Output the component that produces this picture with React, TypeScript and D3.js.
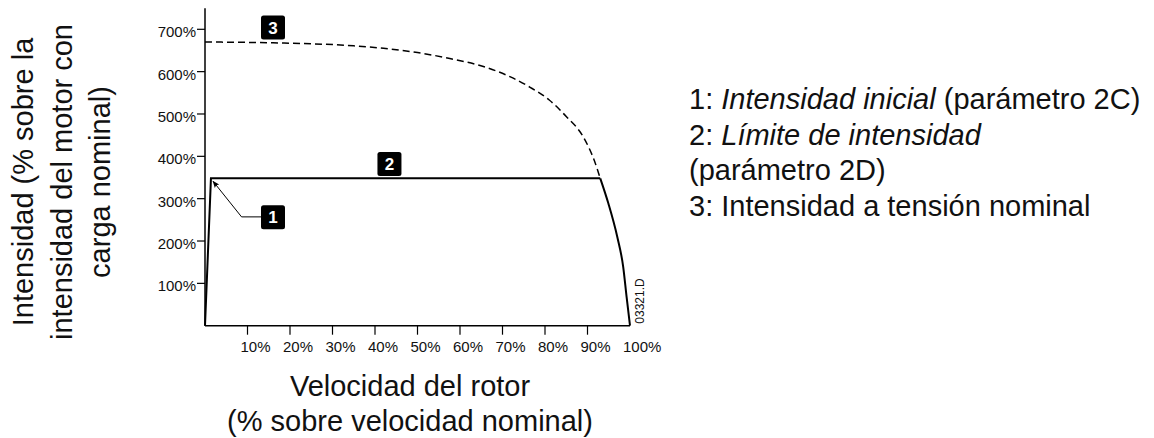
import React, { useRef, useEffect } from "react";
import * as d3 from "d3";

// rotor speed (% of nominal) -> current (% of full load current)
const rampAndLimit: [number, number][] = [
  [0, 0],
  [1.4, 348],
  [93, 348],
];
const limitFall: [number, number][] = [
  [93, 348],
  [94.9, 289],
  [97, 210],
  [98.4, 139],
  [99.2, 68],
  [100, 0],
];
// current at nominal voltage (dashed)
const dolCurrent: [number, number][] = [
  [0, 670],
  [16, 668],
  [35, 661],
  [42, 655],
  [50, 645],
  [57.6, 631],
  [65.5, 612],
  [72, 587],
  [76.5, 563],
  [81, 533],
  [85, 494],
  [89, 446],
  [91.6, 390],
  [93, 348],
];

const xTickValues = [10, 20, 30, 40, 50, 60, 70, 80, 90];
const xTickLabels = [10, 20, 30, 40, 50, 60, 70, 80, 90, 100];
const yTickValues = [100, 200, 300, 400, 500, 600, 700];

// numbered callouts (data coords of box centre)
const callouts = [
  { id: "1", x: 16, y: 256 },
  { id: "2", x: 43.4, y: 382 },
  { id: "3", x: 16, y: 704 },
];
// leader from callout 1 to the start of the ramp
const leader1: [number, number][] = [
  [13.2, 257],
  [8.6, 257],
  [1.9, 341],
];

const legendLines = [
  [
    { t: "1: ", i: false },
    { t: "Intensidad inicial", i: true },
    { t: " (parámetro 2C)", i: false },
  ],
  [
    { t: "2: ", i: false },
    { t: "Límite de intensidad", i: true },
  ],
  [{ t: "(parámetro 2D)", i: false }],
  [{ t: "3: Intensidad a tensión nominal", i: false }],
];

const yTitle = ["Intensidad (% sobre la", "intensidad del motor con", "carga nominal)"];
const xTitle = ["Velocidad del rotor", "(% sobre velocidad nominal)"];

const FONT = "'Liberation Sans', Arial, Helvetica, sans-serif";

function App() {
  const svgRef = useRef<SVGSVGElement>(null);

  useEffect(() => {
    const svg = d3.select(svgRef.current);
    svg.selectAll("*").remove();

    const x = d3.scaleLinear().domain([0, 100]).range([205, 630]);
    const y = d3.scaleLinear().domain([0, 700]).range([325.7, 29.3]);

    const defs = svg.append("defs");
    defs
      .append("marker")
      .attr("id", "arrowhead")
      .attr("viewBox", "0 0 10 10")
      .attr("refX", 9)
      .attr("refY", 5)
      .attr("markerWidth", 10)
      .attr("markerHeight", 7)
      .attr("markerUnits", "userSpaceOnUse")
      .attr("orient", "auto")
      .append("path")
      .attr("d", "M0,1 L10,5 L0,9 L2,5 Z")
      .attr("fill", "#000");

    // axes lines
    svg
      .append("line")
      .attr("x1", x(0))
      .attr("x2", x(0))
      .attr("y1", y(0))
      .attr("y2", y(750))
      .attr("stroke", "#000")
      .attr("stroke-width", 1.5);
    svg
      .append("line")
      .attr("x1", x(0))
      .attr("x2", x(100))
      .attr("y1", y(0))
      .attr("y2", y(0))
      .attr("stroke", "#000")
      .attr("stroke-width", 1.5);

    // y ticks
    const yg = svg.append("g").attr("font-family", FONT).attr("font-size", 15);
    yTickValues.forEach((v) => {
      yg.append("line")
        .attr("x1", x(0) - 8)
        .attr("x2", x(0))
        .attr("y1", y(v))
        .attr("y2", y(v))
        .attr("stroke", "#000")
        .attr("stroke-width", 1.2);
      yg.append("text")
        .attr("x", x(0) - 9)
        .attr("y", y(v) + 8)
        .attr("text-anchor", "end")
        .attr("fill", "#111")
        .text(`${v}%`);
    });

    // x ticks
    const xg = svg.append("g").attr("font-family", FONT).attr("font-size", 15);
    xTickValues.forEach((v) => {
      xg.append("line")
        .attr("x1", x(v))
        .attr("x2", x(v))
        .attr("y1", y(0))
        .attr("y2", y(0) + 9)
        .attr("stroke", "#000")
        .attr("stroke-width", 1.2);
    });
    xTickLabels.forEach((v) => {
      xg.append("text")
        .attr("x", x(v) - 7)
        .attr("y", 352)
        .attr("fill", "#111")
        .text(`${v}%`);
    });

    const line = d3
      .line<[number, number]>()
      .x((d) => x(d[0]))
      .y((d) => y(d[1]));
    const curve = d3
      .line<[number, number]>()
      .x((d) => x(d[0]))
      .y((d) => y(d[1]))
      .curve(d3.curveMonotoneX);

    svg
      .append("path")
      .attr("d", curve(dolCurrent))
      .attr("fill", "none")
      .attr("stroke", "#000")
      .attr("stroke-width", 1.5)
      .attr("stroke-dasharray", "7,4");

    svg
      .append("path")
      .attr("d", line(rampAndLimit))
      .attr("fill", "none")
      .attr("stroke", "#000")
      .attr("stroke-width", 2)
      .attr("stroke-linejoin", "miter");
    svg
      .append("path")
      .attr("d", curve(limitFall))
      .attr("fill", "none")
      .attr("stroke", "#000")
      .attr("stroke-width", 2);

    // leader arrow for callout 1
    svg
      .append("path")
      .attr("d", line(leader1))
      .attr("fill", "none")
      .attr("stroke", "#000")
      .attr("stroke-width", 1)
      .attr("marker-end", "url(#arrowhead)");

    // callout boxes
    const cg = svg
      .selectAll("g.callout")
      .data(callouts)
      .enter()
      .append("g")
      .attr("class", "callout")
      .attr("transform", (d) => `translate(${x(d.x)},${y(d.y)})`);
    cg.append("rect")
      .attr("x", -12)
      .attr("y", -12)
      .attr("width", 24)
      .attr("height", 24)
      .attr("rx", 2.5)
      .attr("fill", "#000");
    cg.append("text")
      .attr("y", 6)
      .attr("text-anchor", "middle")
      .attr("font-family", FONT)
      .attr("font-weight", "bold")
      .attr("font-size", 17)
      .attr("fill", "#fff")
      .text((d) => d.id);

    // drawing code
    svg
      .append("text")
      .attr("transform", `translate(643.5,${y(0) - 2}) rotate(-90)`)
      .attr("font-family", FONT)
      .attr("font-size", 12)
      .attr("fill", "#111")
      .text("03321.D");

    // y title
    const yt = svg
      .append("text")
      .attr("transform", "translate(0,182) rotate(-90)")
      .attr("font-family", FONT)
      .attr("font-size", 29)
      .attr("text-anchor", "middle")
      .attr("fill", "#111");
    yTitle.forEach((t, i) => {
      yt.append("tspan").attr("x", 0).attr("y", 33 + i * 38.5).text(t);
    });

    // x title
    const xt = svg
      .append("text")
      .attr("font-family", FONT)
      .attr("font-size", 29)
      .attr("text-anchor", "middle")
      .attr("fill", "#111");
    xTitle.forEach((t, i) => {
      xt.append("tspan").attr("x", 410).attr("y", 396 + i * 35).text(t);
    });

    // legend
    const lg = svg
      .append("g")
      .attr("font-family", FONT)
      .attr("font-size", 29)
      .attr("fill", "#111");
    legendLines.forEach((segs, i) => {
      const txt = lg.append("text").attr("x", 689).attr("y", 109 + i * 35.6);
      segs.forEach((s) => {
        txt
          .append("tspan")
          .attr("font-style", s.i ? "italic" : "normal")
          .text(s.t);
      });
    });
  }, []);

  return (
    <svg
      ref={svgRef}
      width={1154}
      height={438}
      style={{ position: "absolute", left: 0, top: 0, background: "#fff" }}
    ></svg>
  );
}

export default App;
